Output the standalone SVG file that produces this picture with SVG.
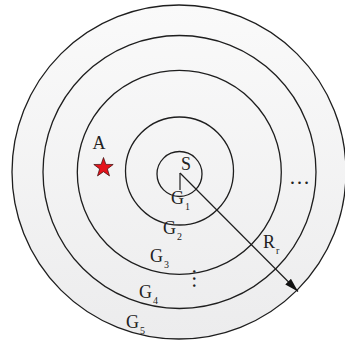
<svg xmlns="http://www.w3.org/2000/svg" width="345" height="347" viewBox="0 0 345 347">
<style>
.ring{fill:none;stroke:#1e1e1e;stroke-width:1.3}
.lbl{font-family:"Liberation Serif","Times New Roman",serif;fill:#222;font-size:18px}
.sub{font-family:"Liberation Serif","Times New Roman",serif;fill:#222;font-size:10px}
.ln{stroke:#1e1e1e;stroke-width:1.2;fill:none}
</style>
<defs>
<linearGradient id="bg" x1="0" y1="0" x2="0" y2="1">
<stop offset="0" stop-color="#fafafa"/>
<stop offset="1" stop-color="#ececed"/>
</linearGradient>
<marker id="ah" viewBox="0 0 14 8" refX="14" refY="4" markerWidth="14" markerHeight="8" markerUnits="userSpaceOnUse" orient="auto">
<path d="M0,0 L14,4 L0,8 Z" fill="#111"/>
</marker>
</defs>
<rect width="345" height="347" fill="#fff"/>
<g id="ring5"><circle cx="179" cy="172" r="167" fill="url(#bg)" stroke="#1e1e1e" stroke-width="1.3"/></g>
<g id="ring4"><circle class="ring" cx="179.5" cy="172" r="136.5"/></g>
<g id="ring3"><circle class="ring" cx="179.3" cy="172.3" r="102"/></g>
<g id="ring2"><circle class="ring" cx="179.5" cy="171" r="54"/></g>
<g id="ring1"><circle class="ring" cx="179.5" cy="174" r="22.5"/></g>
<g id="connectors">
<line class="ln" x1="180" y1="173" x2="180" y2="190"/>
<line class="ln" x1="180" y1="173" x2="298" y2="291.5" marker-end="url(#ah)"/>
</g>
<g id="S"><text class="lbl" x="186" y="170" text-anchor="middle">S</text></g>
<g id="A">
<text class="lbl" x="99" y="149" text-anchor="middle">A</text>
<polygon points="103.5,157.5 105.9,164.4 113.2,164.5 107.4,168.9 109.5,175.9 103.5,171.7 97.5,175.9 99.6,168.9 93.8,164.5 101.1,164.4" fill="#e4141c" stroke="#3a0a0a" stroke-width="0.7"/>
</g>
<g id="G1"><text class="lbl" x="171" y="204">G<tspan class="sub" dx="1" dy="6">1</tspan></text></g>
<g id="G2"><text class="lbl" x="163" y="234">G<tspan class="sub" dx="1" dy="6">2</tspan></text></g>
<g id="G3"><text class="lbl" x="150" y="262">G<tspan class="sub" dx="1" dy="6">3</tspan></text></g>
<g id="G4"><text class="lbl" x="139" y="298">G<tspan class="sub" dx="1" dy="6">4</tspan></text></g>
<g id="G5"><text class="lbl" x="126" y="328">G<tspan class="sub" dx="1" dy="6">5</tspan></text></g>
<g id="Rr"><text class="lbl" x="263" y="248">R<tspan class="sub" dx="1" dy="6">r</tspan></text></g>
<g id="hdots"><text class="lbl" x="299.5" y="184" text-anchor="middle" style="font-size:21px">…</text></g>
<g id="vdots"><text class="lbl" x="0" y="0" text-anchor="middle" style="font-size:21px" transform="translate(193,278.5) rotate(90)">…</text></g>
</svg>
